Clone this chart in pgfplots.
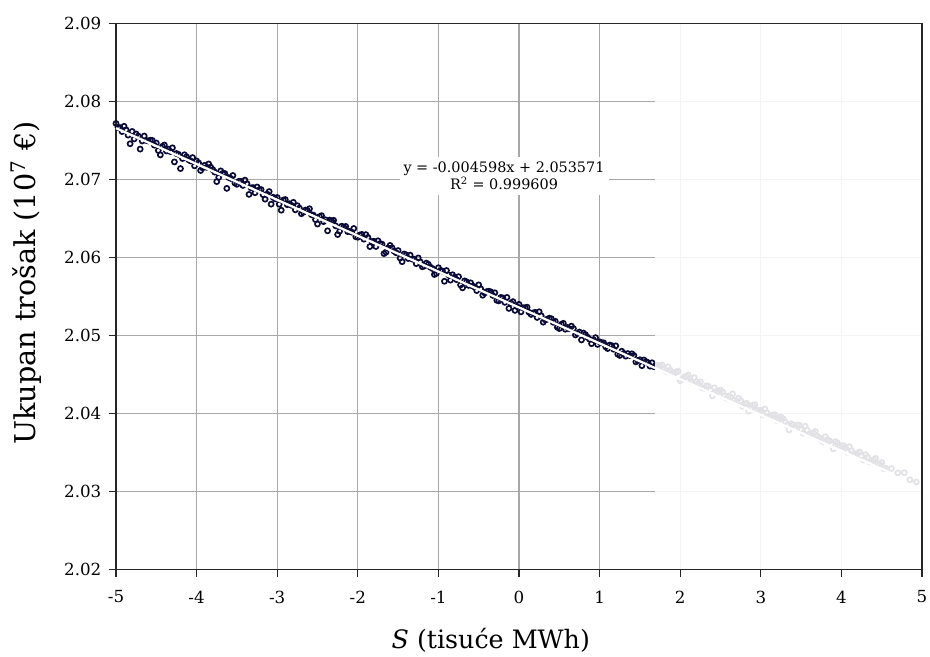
\documentclass[border=0pt]{standalone}
\usepackage{fontspec}
\setmainfont{DejaVu Serif}
\usepackage{pgfplots}
\usepackage{pgfplotstable}
\pgfplotsset{compat=1.18}
\definecolor{navy}{HTML}{0A0A36}
\definecolor{gridgray}{HTML}{A8A8A8}
\definecolor{axisgray}{HTML}{262626}

\pgfplotstableread{
x y
-5.00 2.07716
-4.95 2.07663
-4.90 2.07680
-4.85 2.07567
-4.80 2.07614
-4.75 2.07581
-4.70 2.07388
-4.65 2.07555
-4.60 2.07492
-4.55 2.07499
-4.50 2.07466
-4.45 2.07313
-4.40 2.07440
-4.35 2.07387
-4.30 2.07404
-4.25 2.07331
-4.20 2.07138
-4.15 2.07315
-4.10 2.07252
-4.05 2.07279
-4.00 2.07236
-3.95 2.07113
-3.90 2.07180
-3.85 2.07197
-3.80 2.07124
-3.75 2.06971
-3.70 2.07108
-3.65 2.07075
-3.60 2.07022
-3.55 2.07049
-3.50 2.06936
-3.45 2.06973
-3.40 2.06990
-3.35 2.06807
-3.30 2.06894
-3.25 2.06902
-3.20 2.06869
-3.15 2.06746
-3.10 2.06843
-3.05 2.06770
-3.00 2.06767
-2.95 2.06604
-2.90 2.06741
-2.85 2.06688
-2.80 2.06705
-2.75 2.06662
-2.70 2.06559
-2.65 2.06606
-2.60 2.06623
-2.55 2.06540
-2.50 2.06427
-2.45 2.06534
-2.40 2.06481
-2.35 2.06478
-2.30 2.06475
-2.25 2.06292
-2.20 2.06399
-2.15 2.06396
-2.10 2.06333
-2.05 2.06370
-2.00 2.06257
-1.95 2.06294
-1.90 2.06291
-1.85 2.06138
-1.80 2.06205
-1.75 2.06212
-1.70 2.06169
-1.65 2.06066
-1.60 2.06153
-1.55 2.06080
-1.50 2.06087
-1.45 2.05944
-1.40 2.06031
-1.35 2.06028
-1.30 2.05975
-1.25 2.05992
-1.20 2.05879
-1.15 2.05926
-1.10 2.05873
-1.05 2.05780
-1.00 2.05867
-0.95 2.05824
-0.90 2.05831
-0.85 2.05708
-0.80 2.05745
-0.75 2.05752
-0.70 2.05609
-0.65 2.05686
-0.60 2.05673
-0.55 2.05620
-0.50 2.05647
-0.45 2.05514
-0.40 2.05561
-0.35 2.05558
-0.30 2.05545
-0.25 2.05442
-0.20 2.05479
-0.15 2.05486
-0.10 2.05413
-0.05 2.05320
0.00 2.05397
0.05 2.05354
0.10 2.05361
0.15 2.05268
0.20 2.05295
0.25 2.05302
0.30 2.05169
0.35 2.05206
0.40 2.05213
0.45 2.05180
0.50 2.05087
0.55 2.05154
0.60 2.05101
0.65 2.05118
0.70 2.05005
0.75 2.05042
0.80 2.05029
0.85 2.04976
0.90 2.04893
0.95 2.04970
1.00 2.04917
1.05 2.04904
1.10 2.04831
1.15 2.04868
1.20 2.04865
1.25 2.04742
1.30 2.04769
1.35 2.04766
1.40 2.04763
1.45 2.04660
1.50 2.04687
1.55 2.04684
1.60 2.04651
1.65 2.04648
1.70 2.04615
}\darkdata

\pgfplotstableread{
x y
-4.975 2.07665
-4.925 2.07612
-4.875 2.07634
-4.825 2.07456
-4.775 2.07518
-4.725 2.07555
-4.675 2.07492
-4.625 2.07499
-4.575 2.07501
-4.525 2.07438
-4.475 2.07370
-4.425 2.07422
-4.375 2.07364
-4.325 2.07356
-4.275 2.07223
-4.225 2.07320
-4.175 2.07267
-4.125 2.07289
-4.075 2.07236
-4.025 2.07173
-3.975 2.07210
-3.925 2.07147
-3.875 2.07154
-3.825 2.07156
-3.775 2.07093
-3.725 2.07025
-3.675 2.07077
-3.625 2.06884
-3.575 2.07011
-3.525 2.06953
-3.475 2.06975
-3.425 2.06922
-3.375 2.06944
-3.325 2.06891
-3.275 2.06828
-3.225 2.06866
-3.175 2.06803
-3.125 2.06810
-3.075 2.06682
-3.025 2.06749
-2.975 2.06681
-2.925 2.06733
-2.875 2.06675
-2.825 2.06667
-2.775 2.06609
-2.725 2.06631
-2.675 2.06578
-2.625 2.06600
-2.575 2.06547
-2.525 2.06484
-2.475 2.06521
-2.425 2.06458
-2.375 2.06340
-2.325 2.06467
-2.275 2.06404
-2.225 2.06336
-2.175 2.06388
-2.125 2.06330
-2.075 2.06322
-2.025 2.06264
-1.975 2.06286
-1.925 2.06233
-1.875 2.06255
-1.825 2.06202
-1.775 2.06139
-1.725 2.06176
-1.675 2.06048
-1.625 2.06120
-1.575 2.06122
-1.525 2.06059
-1.475 2.05991
-1.425 2.06043
-1.375 2.05985
-1.325 2.05977
-1.275 2.05919
-1.225 2.05941
-1.175 2.05888
-1.125 2.05910
-1.075 2.05857
-1.025 2.05794
-0.975 2.05831
-0.925 2.05693
-0.875 2.05775
-0.825 2.05777
-0.775 2.05714
-0.725 2.05646
-0.675 2.05698
-0.625 2.05640
-0.575 2.05632
-0.525 2.05574
-0.475 2.05596
-0.425 2.05543
-0.375 2.05565
-0.325 2.05512
-0.275 2.05449
-0.225 2.05486
-0.175 2.05423
-0.125 2.05345
-0.075 2.05432
-0.025 2.05369
0.025 2.05301
0.075 2.05353
0.125 2.05295
0.175 2.05287
0.225 2.05229
0.275 2.05251
0.325 2.05198
0.375 2.05220
0.425 2.05167
0.475 2.05104
0.525 2.05141
0.575 2.05078
0.625 2.05085
0.675 2.05087
0.725 2.05024
0.775 2.04941
0.825 2.05008
0.875 2.04950
0.925 2.04942
0.975 2.04884
1.025 2.04906
1.075 2.04853
1.125 2.04875
1.175 2.04822
1.225 2.04759
1.275 2.04796
1.325 2.04733
1.375 2.04740
1.425 2.04742
1.475 2.04679
1.525 2.04611
1.575 2.04663
1.625 2.04605
1.675 2.04597
}\darkdatab

\pgfplotstableread{
x y
1.75 2.04612
1.80 2.04559
1.85 2.04596
1.90 2.04523
1.95 2.04530
2.00 2.04418
2.05 2.04465
2.10 2.04492
2.15 2.04399
2.20 2.04406
2.25 2.04403
2.30 2.04320
2.35 2.04347
2.40 2.04224
2.45 2.04281
2.50 2.04298
2.55 2.04225
2.60 2.04222
2.65 2.04249
2.70 2.04146
2.75 2.04163
2.80 2.04120
2.85 2.04027
2.90 2.04104
2.95 2.04041
3.00 2.04038
3.05 2.04055
3.10 2.03962
3.15 2.03979
3.20 2.03906
3.25 2.03953
3.30 2.03890
3.35 2.03787
3.40 2.03854
3.45 2.03851
3.50 2.03788
3.55 2.03835
3.60 2.03732
3.65 2.03749
3.70 2.03706
3.75 2.03653
3.80 2.03700
3.85 2.03647
3.90 2.03544
3.95 2.03621
4.00 2.03558
4.05 2.03565
4.10 2.03572
4.15 2.03479
4.20 2.03486
4.25 2.03453
4.30 2.03470
4.35 2.03377
4.40 2.03404
4.45 2.03351
4.50 2.03368
4.55 2.03295
4.62 2.03293
4.70 2.03236
4.78 2.03239
4.85 2.03147
4.93 2.03120
1.725 2.04614
1.775 2.04621
1.825 2.04538
1.875 2.04555
1.925 2.04512
1.975 2.04539
2.025 2.04436
2.075 2.04473
2.125 2.04410
2.175 2.04457
2.225 2.04379
2.275 2.04326
2.325 2.04353
2.375 2.04300
2.425 2.04327
2.475 2.04269
2.525 2.04276
2.575 2.04193
2.625 2.04210
2.675 2.04167
2.725 2.04194
2.775 2.04091
2.825 2.04128
2.875 2.04065
2.925 2.04112
2.975 2.04034
3.025 2.03981
3.075 2.04008
3.125 2.03955
3.175 2.03982
3.225 2.03924
3.275 2.03931
3.325 2.03848
3.375 2.03865
3.425 2.03822
3.475 2.03849
3.525 2.03746
3.575 2.03783
3.625 2.03720
3.675 2.03767
3.725 2.03689
3.775 2.03636
3.825 2.03663
3.875 2.03610
3.925 2.03637
3.975 2.03579
4.025 2.03586
4.075 2.03503
4.125 2.03520
4.175 2.03477
4.225 2.03504
4.275 2.03401
4.325 2.03438
4.375 2.03375
4.425 2.03422
4.475 2.03344
4.525 2.03291
}\lightdata

\begin{document}
\begin{tikzpicture}
\useasboundingbox (-87pt,-65pt) rectangle (610.5pt,427pt);
\begin{axis}[
  at={(0,0)}, anchor=south west,
  scale only axis, width=604.5pt, height=409.5pt,
  xmin=-5, xmax=5, ymin=2.02, ymax=2.09,
  xtick={-5,-4,-3,-2,-1,0,1,2,3,4,5},
  xticklabels={-5,-4,-3,-2,-1,0,1,2,3,4,5},
  ytick={2.02,2.03,2.04,2.05,2.06,2.07,2.08,2.09},
  yticklabels={2.02,2.03,2.04,2.05,2.06,2.07,2.08,2.09},
  grid=major,
  major grid style={gridgray, line width=0.8pt},
  axis line style={axisgray, line width=1.1pt},
  tick style={axisgray, line width=1pt},
  tick align=outside, major tick length=5.5pt,
  xtick pos=bottom, ytick pos=left,
  tick label style={font=\fontsize{12.5}{14}\selectfont},
  xticklabel shift=7pt,
  yticklabel shift=2pt,
  clip=false,
  clip marker paths=true,
  xlabel={\textit{S} (tisuće MWh)},
  ylabel={Ukupan trošak (10\textsuperscript{7} €)},
  xlabel style={at={(axis description cs:0.465,-0.1455)}, anchor=base,
    font=\fontsize{19}{22}\selectfont},
  ylabel style={at={(axis description cs:-0.0993,0.524)}, anchor=base,
    font=\fontsize{21.5}{24}\selectfont},
]
\addplot[only marks, mark=o, mark size=1.9pt, navy, mark options={line width=1.25pt}]
  table {\lightdata};
\addplot[only marks, mark=o, mark size=1.9pt, navy, mark options={line width=1.25pt}]
  table {\darkdata};
\addplot[only marks, mark=o, mark size=1.9pt, navy, mark options={line width=1.25pt}]
  table {\darkdatab};
\addplot[white, line width=1.7pt] coordinates {(-5,2.07656) (4.6,2.03242)};
\fill[white, opacity=0.88] (axis cs:1.69,2.02) rectangle (axis cs:5,2.09);
\draw[axisgray, line width=1.1pt] (axis cs:1.69,2.02) -- (axis cs:5,2.02) -- (axis cs:5,2.09) -- (axis cs:1.69,2.09);
\node[fill=white, inner xsep=3pt, inner ysep=4pt, align=center,
  font=\fontsize{10.8}{12.75}\selectfont] at (axis cs:-0.186,2.0704)
  {y = -0.004598x + 2.053571\\R\textsuperscript{2} = 0.999609};
\end{axis}
\end{tikzpicture}
\end{document}
